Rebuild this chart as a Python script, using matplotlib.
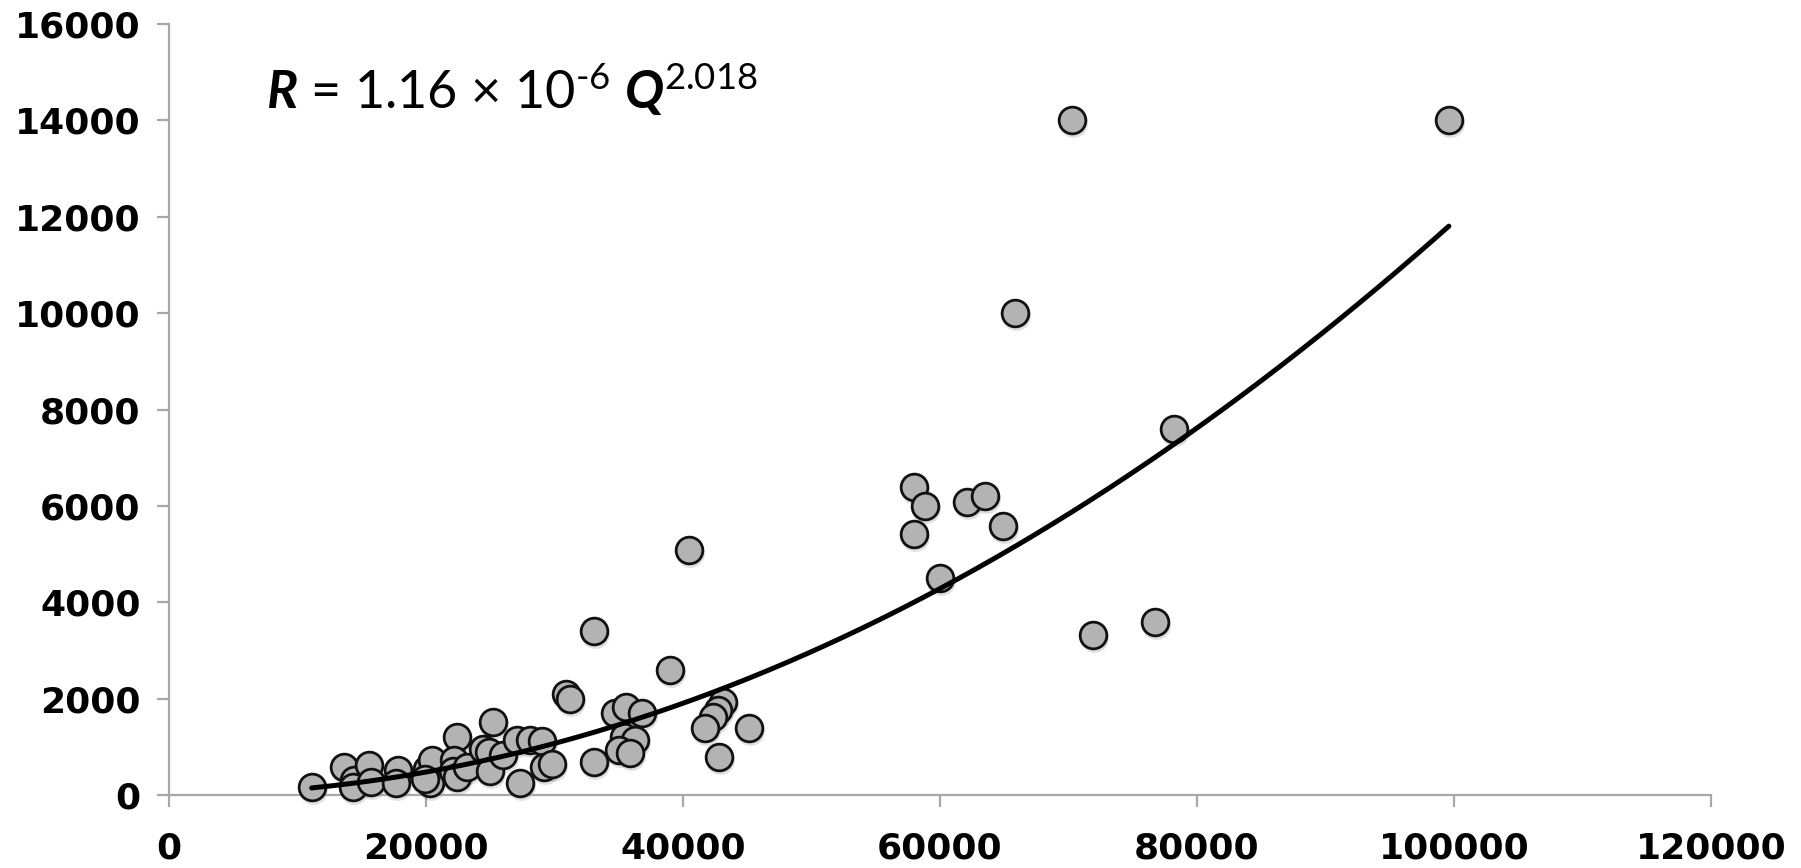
import matplotlib
matplotlib.use("Agg")
import matplotlib.pyplot as plt
import matplotlib.transforms as mtransforms
import numpy as np

# ---- data ----
discharge = [
    11100, 13600, 14400, 14300, 15600, 15700, 17800, 17700,
    20100, 20500, 20300, 19900, 22400, 22200, 22100, 22400, 23200,
    24400, 25200, 24900, 25000, 26000, 27300, 27100, 28100, 29000,
    29200, 29800, 30900, 31200, 33100, 33100, 34700, 35600, 36800,
    35400, 36300, 35000, 35900, 38950, 40500, 43100, 42700, 42300,
    41700, 45100, 42800,
    58000, 58800, 58000, 62100, 63500, 64900, 60000, 71900,
    65800, 78200, 76700, 70300, 99600,
]
load = [
    170, 590, 310, 170, 620, 280, 520, 240,
    530, 720, 250, 330, 1200, 720, 500, 380, 590,
    950, 1520, 900, 500, 820, 250, 1140, 1150, 1130,
    590, 640, 2100, 2000, 3400, 690, 1700, 1820, 1700,
    1210, 1140, 930, 870, 2600, 5080, 1920, 1760, 1610,
    1390, 1400, 780,
    6390, 6000, 5410, 6090, 6210, 5590, 4500, 3320,
    10000, 7600, 3600, 14000, 14000,
]

# trend line parameters (power law as drawn in the picture)
trend_coef = 1.19e-6
trend_exp = 2.0
trend_start = 11100
trend_end = 99600

x_ticks = [0, 20000, 40000, 60000, 80000, 100000, 120000]
y_ticks = [0, 2000, 4000, 6000, 8000, 10000, 12000, 14000, 16000]

plt.rcParams['font.family'] = ['Lato', 'DejaVu Sans']
plt.rcParams['mathtext.fontset'] = 'custom'
plt.rcParams['mathtext.rm'] = 'Lato'
plt.rcParams['mathtext.it'] = 'Lato:italic'
plt.rcParams['mathtext.bf'] = 'Lato:bold'
plt.rcParams['mathtext.bfit'] = 'Lato:bold:italic'

fig = plt.figure(figsize=(18.01, 8.68), dpi=100)
ax = fig.add_axes([169 / 1801, 73 / 868, (1711 - 169) / 1801, (795 - 24) / 868])

axis_gray = '#a8a8a8'

# shadow under markers
shadow_tr = ax.transData + mtransforms.ScaledTranslation(1 / 100, -3 / 100, fig.dpi_scale_trans)
ax.scatter(discharge, load, s=430, color='#000000', alpha=0.12, linewidths=0,
           transform=shadow_tr, zorder=2, clip_on=False)

ax.scatter(discharge, load, s=370, facecolor='#b3b3b3', edgecolor='#111111',
           linewidths=2.0, zorder=3, clip_on=False)

q = np.linspace(trend_start, trend_end, 300)
ax.plot(q, trend_coef * q ** trend_exp, color='black', lw=3.6, zorder=4,
        solid_capstyle='round')

ax.set_xlim(0, 120000)
ax.set_ylim(0, 16000)
ax.set_xticks(x_ticks)
ax.set_yticks(y_ticks)
ax.set_xticklabels([str(v) for v in x_ticks])
ax.set_yticklabels([str(v) for v in y_ticks])

for s in ['top', 'right']:
    ax.spines[s].set_visible(False)
for s in ['left', 'bottom']:
    ax.spines[s].set_color(axis_gray)
    ax.spines[s].set_linewidth(1.6)

ax.tick_params(axis='both', direction='out', length=8.5, width=1.6, color=axis_gray,
               labelsize=26, labelcolor='black')
ax.tick_params(axis='x', pad=18)
ax.tick_params(axis='y', pad=12)
for lab in ax.get_xticklabels() + ax.get_yticklabels():
    lab.set_fontweight('bold')
    lab.set_family(['DejaVu Sans'])

ax.text(7550, 14235,
        r'$\mathbfit{R}$ = 1.16 × 10$^{\mathrm{‐6}}$ $\mathbfit{Q}^{\mathrm{2.018}}$',
        fontsize=37.5, va='baseline', ha='left', color='black')

fig.savefig('out.png', dpi=100)
